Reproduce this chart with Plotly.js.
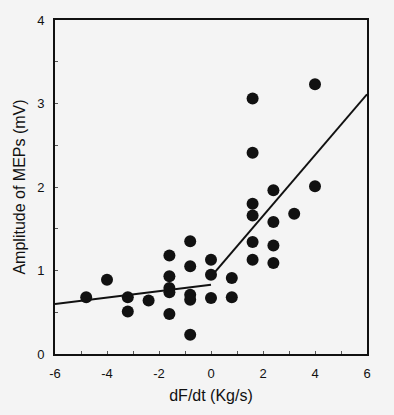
<!DOCTYPE html>
<html>
<head>
<meta charset="utf-8">
<script src="https://cdn.plot.ly/plotly-3.0.1.min.js"></script>
<style>html,body{margin:0;padding:0;background:#f4f4f4;}</style>
</head>
<body>
<div id="chart" style="width:394px;height:415px;"></div>
<script>
const xVals = [-4.8, -4.0, -3.2, -3.2, -2.4, -1.6, -1.6, -1.6, -1.6, -1.6, -0.8, -0.8, -0.8, -0.8, -0.8, 0, 0, 0, 0.8, 0.8, 1.6, 1.6, 1.6, 1.6, 1.6, 1.6, 2.4, 2.4, 2.4, 2.4, 3.2, 4.0, 4.0];
const yVals = [0.68, 0.89, 0.68, 0.51, 0.64, 1.18, 0.93, 0.79, 0.74, 0.48, 1.35, 1.05, 0.71, 0.65, 0.23, 1.13, 0.95, 0.67, 0.91, 0.68, 3.06, 2.41, 1.80, 1.66, 1.34, 1.13, 1.96, 1.58, 1.30, 1.09, 1.68, 3.23, 2.01];
const fitLowX = [-6, 0];
const fitLowY = [0.60, 0.83];
const fitHighX = [0.15, 6];
const fitHighY = [0.98, 3.11];
const xTickVals = [-6, -4, -2, 0, 2, 4, 6];
const xTickText = ['-6', '-4', '-2', '0', '2', '4', '6'];
const yTickVals = [0, 1, 2, 3, 4];
const yTickText = ['0', '1', '2', '3', '4'];

const traces = [
  {x: xVals, y: yVals, mode: 'markers', type: 'scatter',
   marker: {color: '#111111', size: 12}, showlegend: false},
  {x: fitLowX, y: fitLowY, mode: 'lines', type: 'scatter',
   line: {color: '#111111', width: 2}, showlegend: false},
  {x: fitHighX, y: fitHighY, mode: 'lines', type: 'scatter',
   line: {color: '#111111', width: 2}, showlegend: false}
];

const layout = {
  width: 394, height: 415,
  margin: {l: 55, r: 27, t: 20, b: 61},
  paper_bgcolor: '#f4f4f4', plot_bgcolor: '#f4f4f4',
  font: {family: 'Arial, Liberation Sans, sans-serif', color: '#111111', size: 13},
  xaxis: {
    range: [-6, 6], tickvals: xTickVals, ticktext: xTickText,
    showgrid: false, zeroline: false,
    showline: true, mirror: true, linecolor: '#111111', linewidth: 2,
    ticks: 'inside', ticklen: 3, tickwidth: 1, tickcolor: '#555',
    minor: {dtick: 1, ticks: 'inside', ticklen: 3, tickcolor: '#555'},
    tickfont: {size: 13}, ticklabelstandoff: 6,
    title: {text: 'dF/dt (Kg/s)', font: {size: 16}, standoff: 10}
  },
  yaxis: {
    range: [0, 4], tickvals: yTickVals, ticktext: yTickText,
    showgrid: false, zeroline: false,
    showline: true, mirror: true, linecolor: '#111111', linewidth: 2,
    ticks: 'inside', ticklen: 3, tickwidth: 1, tickcolor: '#555',
    minor: {dtick: 0.5, ticks: 'inside', ticklen: 3, tickcolor: '#555'},
    tickfont: {size: 13}, ticklabelstandoff: 6,
    title: {text: 'Amplitude of MEPs (mV)', font: {size: 16}, standoff: 8}
  }
};

Plotly.newPlot('chart', traces, layout, {displayModeBar: false, staticPlot: true});
</script>
</body>
</html>
